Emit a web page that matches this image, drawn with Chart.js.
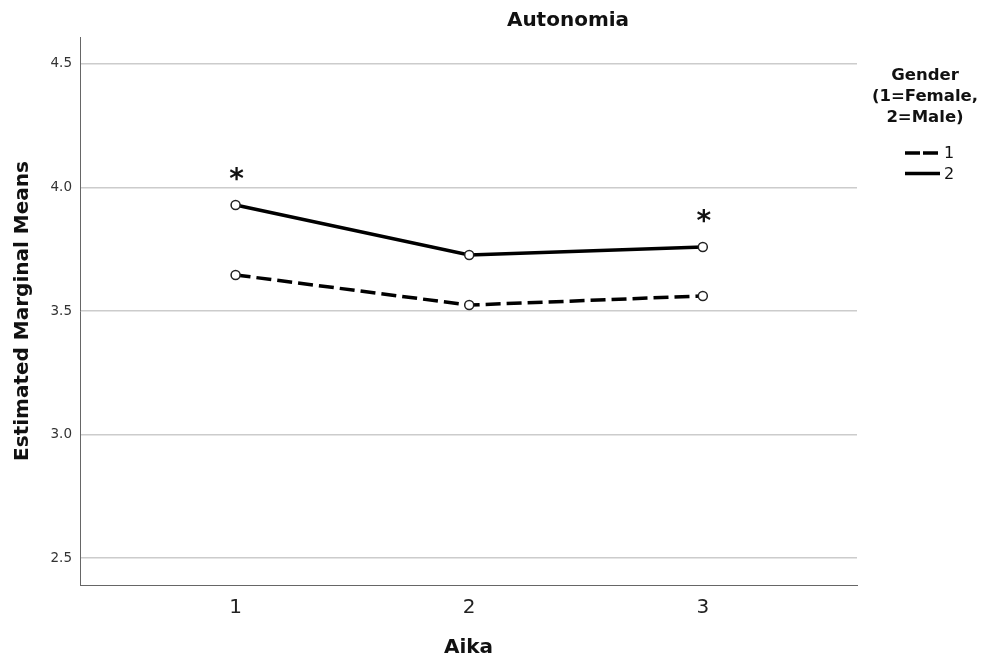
<!DOCTYPE html>
<html>
<head>
<meta charset="utf-8">
<script src="https://cdn.jsdelivr.net/npm/chart.js@4/dist/chart.umd.min.js"></script>
<style>
  body { margin: 0; background: #fff; }
  canvas { display: block; }
</style>
</head>
<body>
<canvas id="myChart" width="997" height="662"></canvas>
<script>
// data
const aikaValues = [1, 2, 3];
const femaleMeans = [3.646, 3.524, 3.561];   // gender 1, dashed
const maleMeans = [3.929, 3.727, 3.759];     // gender 2, solid
const seriesLabels = ['1', '2'];
const yTickValues = [2.5, 3.0, 3.5, 4.0, 4.5];
const asteriskAt = [1, 3];                  // aika values marked with *

const chartTitle = 'Autonomia';
const legendTitle = ['Gender', '(1=Female,', '2=Male)'];

const FONT = '"DejaVu Sans", Verdana, sans-serif';

function toPoints(values) {
    return aikaValues.map((x, i) => ({ x: x, y: values[i] }));
}

const extrasPlugin = {
    id: 'extras',
    afterDatasetsDraw(chart) {
        const ctx = chart.ctx;
        const xs = chart.scales.x;
        const ys = chart.scales.y;
        ctx.save();

        // title
        ctx.fillStyle = '#111';
        ctx.font = 'bold 20px ' + FONT;
        ctx.textAlign = 'center';
        ctx.textBaseline = 'middle';
        ctx.fillText(chartTitle, 568, 21);

        // asterisks above the solid line
        ctx.font = 'bold 28px ' + FONT;
        ctx.textBaseline = 'alphabetic';
        asteriskAt.forEach(a => {
            const i = aikaValues.indexOf(a);
            const px = xs.getPixelForValue(a);
            const py = ys.getPixelForValue(maleMeans[i]);
            ctx.fillText('*', px + 1, py - 17);
        });

        // legend
        ctx.font = 'bold 16.5px ' + FONT;
        ctx.textBaseline = 'middle';
        legendTitle.forEach((t, i) => {
            ctx.fillText(t, 925, 76 + i * 21);
        });
        chart.data.datasets.forEach((ds, i) => {
            const y = 153 + i * 20.5;
            ctx.strokeStyle = ds.borderColor;
            ctx.lineWidth = 3.5;
            ctx.setLineDash(ds.borderDash && ds.borderDash.length ? [15, 3] : []);
            ctx.beginPath();
            ctx.moveTo(905, y);
            ctx.lineTo(940, y);
            ctx.stroke();
            ctx.setLineDash([]);
            ctx.font = '16px ' + FONT;
            ctx.textAlign = 'left';
            ctx.fillText(ds.label, 944, y + 1);
        });
        ctx.restore();
    }
};

const ctx = document.getElementById('myChart').getContext('2d');
const chart = new Chart(ctx, {
    type: 'line',
    data: {
        datasets: [{
            label: seriesLabels[0],
            data: toPoints(femaleMeans),
            borderColor: '#000',
            borderWidth: 3.5,
            borderDash: [15, 6],
            pointRadius: 4.5,
            pointBorderWidth: 1.5,
            pointBorderColor: '#222',
            pointBackgroundColor: '#fff',
            fill: false,
            tension: 0
        }, {
            label: seriesLabels[1],
            data: toPoints(maleMeans),
            borderColor: '#000',
            borderWidth: 3.5,
            pointRadius: 4.5,
            pointBorderWidth: 1.5,
            pointBorderColor: '#222',
            pointBackgroundColor: '#fff',
            fill: false,
            tension: 0
        }]
    },
    options: {
        responsive: false,
        animation: false,
        layout: { padding: { left: 0, right: 140, top: 37, bottom: 0 } },
        scales: {
            x: {
                type: 'linear',
                min: 0.334,
                max: 3.66,
                afterBuildTicks: s => { s.ticks = aikaValues.map(v => ({ value: v })); },
                afterFit: s => { s.height = 77; },
                grid: { display: false, drawTicks: false },
                border: { display: true, color: '#666', width: 1 },
                ticks: {
                    padding: 11,
                    color: '#222',
                    font: { family: FONT, size: 20 },
                    callback: v => String(v)
                },
                title: {
                    display: true,
                    text: 'Aika',
                    color: '#111',
                    font: { family: FONT, size: 20, weight: 'bold' },
                    padding: { top: 0, bottom: 2 }
                }
            },
            y: {
                min: 2.391,
                max: 4.609,
                afterBuildTicks: s => { s.ticks = yTickValues.map(v => ({ value: v })); },
                afterFit: s => { s.width = 80; },
                grid: { color: '#cccccc', lineWidth: 1.5, drawTicks: false },
                border: { display: true, color: '#666', width: 1 },
                ticks: {
                    padding: 8,
                    color: '#333',
                    font: { family: FONT, size: 13.5 },
                    callback: v => v.toFixed(1)
                },
                title: {
                    display: true,
                    text: 'Estimated Marginal Means',
                    color: '#111',
                    font: { family: FONT, size: 20, weight: 'bold' },
                    padding: { top: 11, bottom: 0 }
                }
            }
        },
        plugins: {
            legend: { display: false },
            tooltip: { enabled: false }
        }
    },
    plugins: [extrasPlugin]
});
</script>
</body>
</html>
